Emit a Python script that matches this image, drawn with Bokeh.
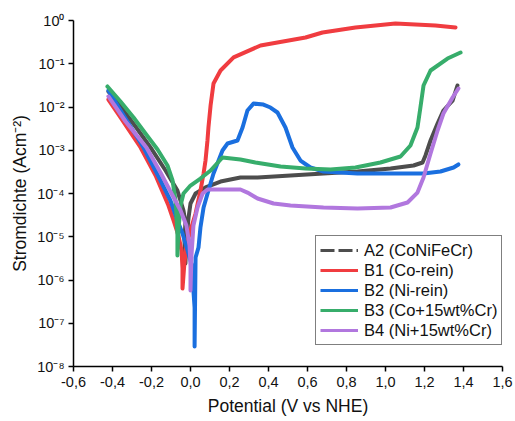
from bokeh.plotting import figure
from bokeh.models import Range1d, FixedTicker, Legend, LegendItem
from bokeh.embed import file_html
from bokeh.resources import INLINE

# ---------------- data ----------------
series_names = ["A2 (CoNiFeCr)", "B1 (Co-rein)", "B2 (Ni-rein)", "B3 (Co+15wt%Cr)", "B4 (Ni+15wt%Cr)"]

E_A2 = [-0.421, -0.359, -0.282, -0.205, -0.128, -0.067, -0.036, -0.026, -0.031, -0.026, -0.021, -0.010,
        0.000, 0.026, 0.077, 0.154, 0.256, 0.344, 0.513, 0.682, 0.856, 1.026, 1.144, 1.190, 1.205,
        1.231, 1.267, 1.297, 1.344, 1.369]
J_A2 = [2.28e-2, 1.03e-2, 3.54e-3, 1.16e-3, 3.40e-4, 1.17e-4, 4.05e-5, 2.13e-5, 8.2e-6, 2.41e-6, 8.2e-6, 2.79e-5,
        5.87e-5, 1.0e-4, 1.38e-4, 1.89e-4, 2.34e-4, 2.34e-4, 2.61e-4, 2.90e-4, 3.23e-4, 3.79e-4, 4.44e-4, 5.21e-4, 7.57e-4,
        1.68e-3, 4.15e-3, 8.30e-3, 1.41e-2, 3.14e-2]

E_B1 = [-0.421, -0.359, -0.256, -0.179, -0.113, -0.087, -0.062, -0.046, -0.041, -0.041, -0.031, -0.021,
        0.000, 0.026, 0.051, 0.067, 0.077, 0.087, 0.092, 0.103, 0.118, 0.154, 0.221, 0.359, 0.590,
        0.677, 0.846, 1.051, 1.256, 1.359]
J_B1 = [1.49e-2, 5.72e-3, 1.16e-3, 2.61e-4, 5.28e-5, 2.38e-5, 1.07e-5, 4.81e-6, 1.85e-6, 6.36e-7, 2.54e-6, 6.28e-6,
        1.40e-5, 3.45e-5, 1.17e-4, 2.90e-4, 5.79e-4, 1.68e-3, 3.36e-3, 1.08e-2, 3.49e-2, 6.98e-2, 1.40e-1, 2.64e-1, 4.04e-1,
        5.28e-1, 6.89e-1, 8.52e-1, 7.66e-1, 6.89e-1]

E_B2 = [-0.421, -0.333, -0.241, -0.164, -0.103, -0.067, -0.041, -0.015, 0.010, 0.015, 0.021, 0.021,
        0.026, 0.041, 0.051, 0.067, 0.092, 0.118, 0.144, 0.164, 0.190, 0.241, 0.267, 0.292, 0.323,
        0.374, 0.410, 0.446, 0.487, 0.523, 0.564, 0.615, 0.682, 0.856, 1.026, 1.195, 1.282, 1.349, 1.374]
J_B2 = [2.41e-2, 5.42e-3, 1.16e-3, 2.47e-4, 6.89e-5, 2.38e-5, 1.19e-5, 4.81e-6, 1.95e-6, 5.71e-7, 2.31e-7, 2.90e-8,
        3.31e-6, 5.64e-6, 1.64e-5, 4.74e-5, 1.17e-4, 2.90e-4, 5.79e-4, 9.86e-4, 1.43e-3, 1.68e-3, 3.36e-3, 8.30e-3, 1.20e-2,
        1.14e-2, 9.73e-3, 7.46e-3, 3.36e-3, 1.16e-3, 5.79e-4, 3.99e-4, 3.23e-4, 2.90e-4, 2.90e-4, 2.90e-4, 3.23e-4, 3.99e-4, 4.69e-4]

E_B3 = [-0.426, -0.359, -0.292, -0.231, -0.169, -0.118, -0.092, -0.077, -0.072, -0.067, -0.067, -0.062,
        -0.051, -0.036, 0.000, 0.051, 0.103, 0.164, 0.256, 0.333, 0.462, 0.590, 0.718, 0.846, 0.974,
        1.077, 1.128, 1.164, 1.179, 1.195, 1.231, 1.318, 1.385]
J_B3 = [2.98e-2, 1.34e-2, 5.72e-3, 2.44e-3, 1.04e-3, 4.44e-4, 2.00e-4, 6.89e-5, 3.10e-5, 1.07e-5, 3.68e-6, 1.40e-5,
        5.28e-5, 1.00e-4, 1.53e-4, 2.22e-4, 3.40e-4, 6.80e-4, 6.11e-4, 5.21e-4, 4.21e-4, 3.79e-4, 3.59e-4, 3.99e-4, 5.21e-4,
        7.17e-4, 1.29e-3, 3.36e-3, 9.73e-3, 3.14e-2, 6.98e-2, 1.32e-1, 1.82e-1]

E_B4 = [-0.421, -0.333, -0.226, -0.154, -0.092, -0.051, -0.021, -0.005, 0.000, 0.000, 0.005, 0.015,
        0.036, 0.062, 0.087, 0.169, 0.256, 0.292, 0.344, 0.426, 0.513, 0.682, 0.856, 1.026, 1.113,
        1.164, 1.195, 1.231, 1.267, 1.297, 1.344, 1.374]
J_B4 = [1.75e-2, 4.62e-3, 1.16e-3, 3.06e-4, 8.99e-5, 4.05e-5, 1.82e-5, 6.28e-6, 2.16e-6, 5.71e-7, 3.68e-6, 1.82e-5,
        4.74e-5, 1.00e-4, 1.24e-4, 1.24e-4, 1.24e-4, 1.05e-4, 7.66e-5, 5.87e-5, 5.28e-5, 4.74e-5, 4.50e-5, 4.74e-5, 6.19e-5,
        1.05e-4, 2.34e-4, 8.41e-4, 2.86e-3, 7.08e-3, 1.66e-2, 2.68e-2]

x_ticks = [-0.6, -0.4, -0.2, 0.0, 0.2, 0.4, 0.6, 0.8, 1.0, 1.2, 1.4, 1.6]
x_tick_labels = ["-0,6", "-0,4", "-0,2", "0,0", "0,2", "0,4", "0,6", "0,8", "1,0", "1,2", "1,4", "1,6"]
y_ticks = [1e-8, 1e-7, 1e-6, 1e-5, 1e-4, 1e-3, 1e-2, 1e-1, 1.0]
y_tick_labels = ["10\u207b\u2078", "10\u207b\u2077", "10\u207b\u2076", "10\u207b\u2075", "10\u207b\u2074",
                 "10\u207b\u00b3", "10\u207b\u00b2", "10\u207b\u00b9", "10\u2070"]

colors = ["#4d4d4d", "#f03c40", "#1a6fdf", "#37ad6b", "#b177de"]

# ---------------- figure ----------------
FONT = "Liberation Sans"
p = figure(width=515, height=421, output_backend="svg", toolbar_location=None,
           y_axis_type="log", x_range=Range1d(-0.6, 1.6), y_range=Range1d(1e-8, 1.0),
           min_border_left=73, min_border_right=13, min_border_top=20, min_border_bottom=55)
p.outline_line_color = None
p.xgrid.visible = False
p.ygrid.visible = False
p.background_fill_color = "white"
p.border_fill_color = "white"

data = [(E_A2, J_A2), (E_B1, J_B1), (E_B2, J_B2), (E_B3, J_B3), (E_B4, J_B4)]
renderers = []
for (ex, jy), c in zip(data, colors):
    r = p.line(ex, jy, line_color=c, line_width=4, line_join="round", line_cap="round")
    renderers.append(r)

# legend proxies (A2 shown dashed in the legend); data lies outside the visible range
legend_items = []
for i, (name, c) in enumerate(zip(series_names, colors)):
    dash = "14 4" if i == 0 else "solid"
    proxy = p.line([5.0, 6.0], [1e3, 1e3], line_color=c, line_width=3, line_dash=dash)
    legend_items.append(LegendItem(label=name, renderers=[proxy]))

legend = Legend(items=legend_items, location=(242, 21))
legend.border_line_color = "black"
legend.border_line_width = 1
legend.background_fill_alpha = 1.0
legend.padding = 4
legend.spacing = 0
legend.margin = 0
legend.label_height = 20
legend.glyph_height = 20
legend.glyph_width = 38
legend.label_standoff = 6
legend.label_text_font = FONT
legend.label_text_font_size = "16.5px"
legend.label_text_color = "#111111"
p.add_layout(legend, "center")

# axes
xa = p.xaxis[0]
xa.ticker = FixedTicker(ticks=x_ticks)
xa.major_label_overrides = dict(zip(x_ticks, x_tick_labels))
xa.axis_label = "Potential (V vs NHE)"
ya = p.yaxis[0]
ya.ticker = FixedTicker(ticks=y_ticks)
ya.major_label_overrides = dict(zip(y_ticks, y_tick_labels))
ya.axis_label = "Stromdichte (Acm\u207b\u00b2)"

for ax in (xa, ya):
    ax.axis_line_color = "black"
    ax.axis_line_width = 1.5
    ax.major_tick_line_color = "black"
    ax.major_tick_line_width = 1.5
    ax.major_tick_out = 5
    ax.major_tick_in = 0
    ax.minor_tick_line_color = None
    ax.major_label_text_font = FONT
    ax.major_label_text_font_size = "14.5px"
    ax.major_label_text_color = "#111111"
    ax.axis_label_text_font = FONT
    ax.axis_label_text_font_size = "17.5px"
    ax.axis_label_text_font_style = "normal"
    ax.axis_label_text_color = "#111111"
xa.major_label_standoff = 5
xa.axis_label_standoff = 6
ya.major_label_standoff = 4
ya.axis_label_standoff = 4

open("out.html", "w").write(file_html(p, INLINE))
